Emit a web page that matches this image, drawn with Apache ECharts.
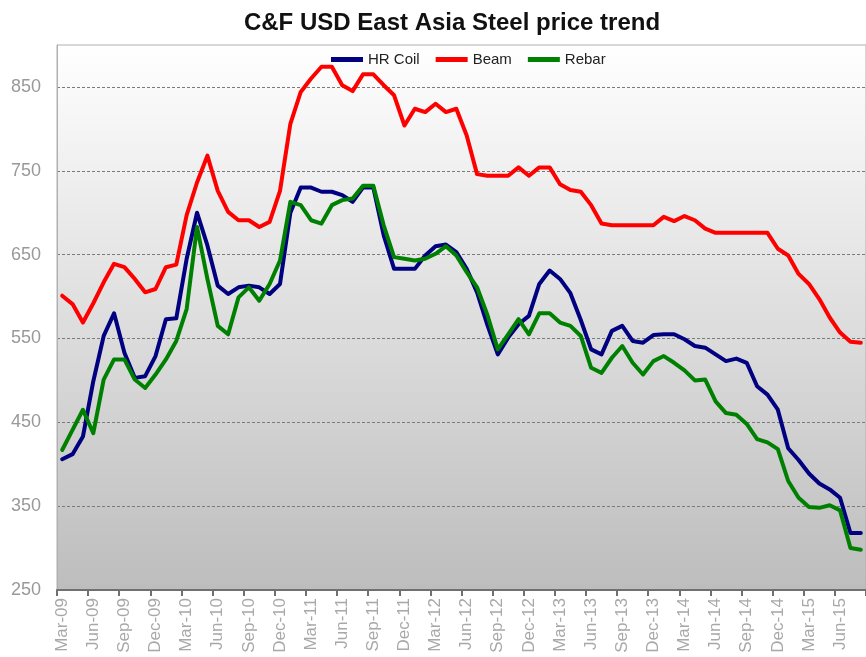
<!DOCTYPE html>
<html><head><meta charset="utf-8">
<script src="https://cdn.jsdelivr.net/npm/echarts@6/dist/echarts.min.js"></script>
<style>html,body{margin:0;padding:0;background:#fff}#c{width:866px;height:657px}</style>
</head><body><div id="c"></div>
<script>
const categories = [
 'Mar-09','Apr-09','May-09','Jun-09','Jul-09','Aug-09','Sep-09','Oct-09','Nov-09','Dec-09','Jan-10','Feb-10',
 'Mar-10','Apr-10','May-10','Jun-10','Jul-10','Aug-10','Sep-10','Oct-10','Nov-10','Dec-10','Jan-11','Feb-11',
 'Mar-11','Apr-11','May-11','Jun-11','Jul-11','Aug-11','Sep-11','Oct-11','Nov-11','Dec-11','Jan-12','Feb-12',
 'Mar-12','Apr-12','May-12','Jun-12','Jul-12','Aug-12','Sep-12','Oct-12','Nov-12','Dec-12','Jan-13','Feb-13',
 'Mar-13','Apr-13','May-13','Jun-13','Jul-13','Aug-13','Sep-13','Oct-13','Nov-13','Dec-13','Jan-14','Feb-14',
 'Mar-14','Apr-14','May-14','Jun-14','Jul-14','Aug-14','Sep-14','Oct-14','Nov-14','Dec-14','Jan-15','Feb-15',
 'Mar-15','Apr-15','May-15','Jun-15','Jul-15','Aug-15'];

const hrCoil = [406,412,433,499,553,580,533,503,505,529,573,574,
 645,700,661,613,603,611,613,611,603,615,700,730,
 730,725,725,721,713,730,730,673,633,633,633,649,
 660,662,653,633,605,566,531,551,567,577,615,631,
 621,604,572,537,531,559,565,547,545,554,555,555,
 549,541,539,531,523,526,521,493,483,465,419,405,
 389,377,370,360,318,318];

const beam = [601,591,569,592,617,639,635,621,605,609,635,638,
 697,736,768,726,701,691,691,683,689,726,806,844,
 860,874,874,852,845,865,865,852,840,804,824,820,
 830,820,824,792,746,744,744,744,754,744,754,754,
 734,727,725,709,687,685,685,685,685,685,695,690,
 696,691,681,676,676,676,676,676,676,657,649,627,
 615,597,575,557,546,545];

const rebar = [417,441,465,437,501,525,525,501,491,507,525,547,
 585,683,621,565,555,599,611,595,615,643,713,709,
 691,687,709,715,717,732,732,685,647,645,643,645,
 651,660,649,629,611,578,537,555,573,555,580,580,
 569,565,553,515,509,527,541,521,507,523,529,521,
 512,500,501,475,461,459,448,430,426,418,380,360,
 349,348,351,345,300,298];

const seriesNames = ['HR Coil','Beam','Rebar'];
const seriesColors = ['#000080','#ff0000','#008000'];
const yMin = 250, yMax = 900, yStep = 50, yLabelStep = 100;

const chart = echarts.init(document.getElementById('c'), null, {renderer:'canvas'});
const mk = (name, data, color) => ({
  name, type:'line', data, symbol:'none', smooth:false,
  lineStyle:{width:4, color, join:'round', cap:'round'}, itemStyle:{color}
});
chart.setOption({
  animation:false,
  backgroundColor:'#ffffff',
  title:{text:'C&F USD East Asia Steel price trend', left:447, top:6, textAlign:'center',
    textStyle:{fontSize:24, fontWeight:'bold', color:'#111', fontFamily:'Liberation Sans, Arial'}},
  legend:{left:326, top:47, icon:'rect', itemWidth:32, itemHeight:5, itemGap:16,
    textStyle:{fontSize:15, color:'#222', fontFamily:'Liberation Sans, Arial'},
    data:seriesNames},
  grid:{left:57, top:45, width:815, height:545, show:true, borderColor:'#b0b0b0', borderWidth:1,
    backgroundColor:new echarts.graphic.LinearGradient(0,0,0,1,[{offset:0,color:'#ffffff'},{offset:1,color:'#bdbdbd'}])},
  xAxis:{type:'category', data:categories, boundaryGap:true,
    axisLine:{lineStyle:{color:'#707070', width:2}},
    axisTick:{show:true, interval:2, length:6, alignWithLabel:false, lineStyle:{color:'#707070', width:2}},
    axisLabel:{interval:2, rotate:90, color:'#a8a8a8', fontSize:17, margin:8, fontFamily:'Liberation Sans, Arial'},
    splitLine:{show:false}},
  yAxis:{type:'value', min:yMin, max:yMax, interval:yStep,
    axisLine:{show:true, lineStyle:{color:'#b0b0b0'}},
    axisTick:{show:false},
    axisLabel:{color:'#999999', fontSize:18, margin:16, fontFamily:'Liberation Sans, Arial',
      formatter:v => (((v - yMin) % yLabelStep === 0) && v < yMax) ? String(v) : ''},
    splitLine:{show:true, lineStyle:{color:['#7a7a7a','rgba(0,0,0,0)'], type:[3,2], width:1}}},
  series:[mk(seriesNames[0], hrCoil, seriesColors[0]), mk(seriesNames[1], beam, seriesColors[1]), mk(seriesNames[2], rebar, seriesColors[2])]
});
</script></body></html>
